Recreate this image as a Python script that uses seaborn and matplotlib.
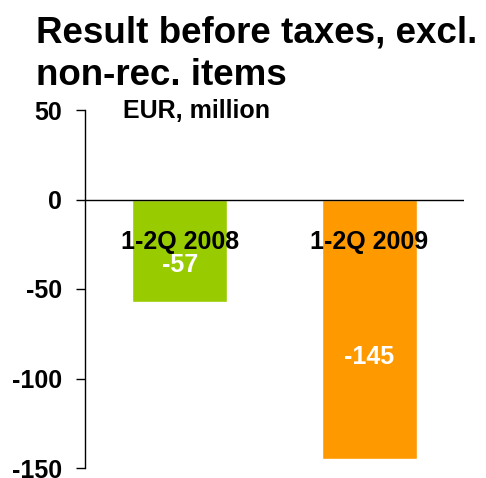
import seaborn as sns
import matplotlib.pyplot as plt
import pandas as pd

periods = ["1-2Q 2008", "1-2Q 2009"]
result = [-57, -145]
bar_colors = ["#99CC00", "#FF9900"]
yticks = [50, 0, -50, -100, -150]

sns.set_style("white")
plt.rcParams['font.family'] = ['Liberation Sans', 'DejaVu Sans']
plt.rcParams['font.weight'] = 'bold'
plt.rcParams['text.color'] = 'black'

df = pd.DataFrame({"period": periods, "result": result})

fig = plt.figure(figsize=(4.86, 4.78), dpi=100)
ax = fig.add_axes([85 / 486, 1 - 468 / 478, (464 - 85) / 486, (468 - 110) / 478])

sns.barplot(data=df, x="period", y="result", hue="period", palette=bar_colors,
            width=0.5, saturation=1, legend=False, ax=ax)

ax.set_xlim(-0.5, 1.5)
ax.set_ylim(-150, 50)
ax.set_yticks(yticks)
ax.set_yticklabels([str(t) for t in yticks], fontsize=18, fontweight='bold', color='black')
ax.tick_params(axis='y', direction='out', length=6.5, width=1, pad=10, left=True, color='black')
ax.set_xticks([])
ax.set_xlabel("")
ax.set_ylabel("")
for s in ["top", "right", "bottom"]:
    ax.spines[s].set_visible(False)
ax.spines["left"].set_color("black")
ax.spines["left"].set_linewidth(1)
ax.axhline(0, color="black", lw=1)

# category names sit inside the bars, just under the zero line
for i, p in enumerate(periods):
    ax.text(i, -27.5, p, ha="center", va="baseline", fontsize=18, fontweight="bold", color="black")
ax.text(0, -40.4, str(result[0]), ha="center", va="baseline", fontsize=18, fontweight="bold", color="white")
ax.text(1, -92, str(result[1]), ha="center", va="baseline", fontsize=18, fontweight="bold", color="white")

fig.text(123 / 486, 1 - 118 / 478, "EUR, million", ha="left", va="baseline",
         fontsize=18, fontweight="bold", color="black")
fig.text(36 / 486, 1 - 42 / 478, "Result before taxes, excl.", ha="left", va="baseline",
         fontsize=26.5, fontweight="bold", color="black")
fig.text(36 / 486, 1 - 85 / 478, "non-rec. items", ha="left", va="baseline",
         fontsize=26.5, fontweight="bold", color="black")

fig.savefig("out.png", dpi=100)
